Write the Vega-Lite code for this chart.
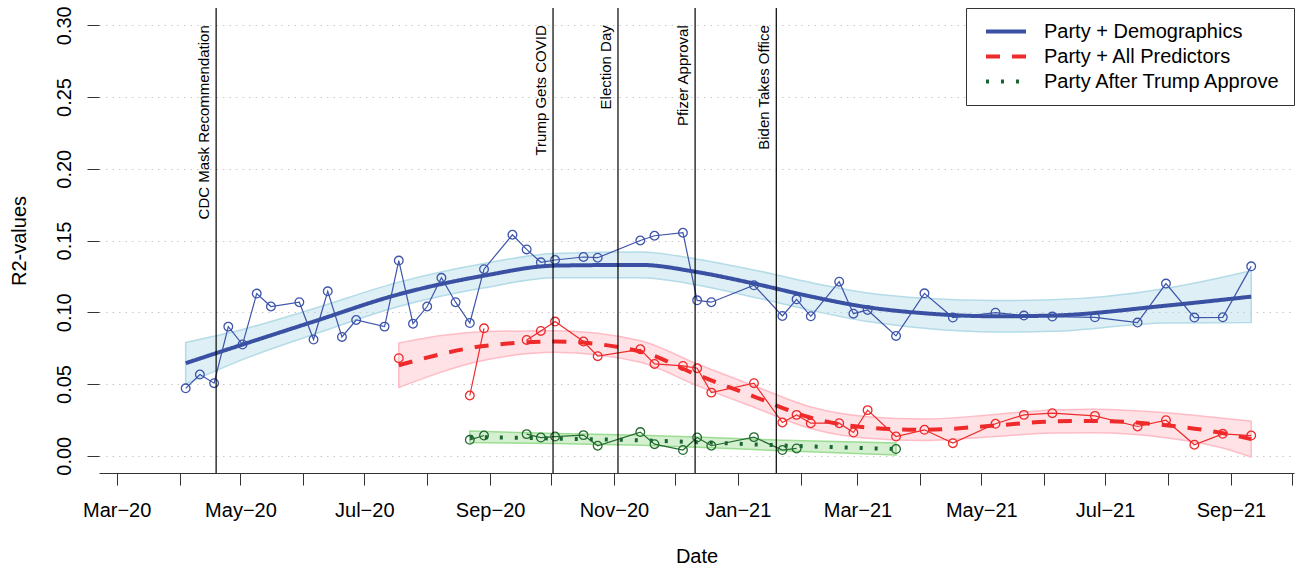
{
  "$schema": "https://vega.github.io/schema/vega-lite/v6.json",
  "width": 1195,
  "height": 465,
  "autosize": "none",
  "padding": {"left": 99, "top": 8, "right": 8, "bottom": 99},
  "background": "white",
  "config": {
    "view": {"stroke": null},
    "font": "Liberation Sans",
    "axis": {
      "labelFont": "Liberation Sans",
      "titleFont": "Liberation Sans",
      "labelColor": "black",
      "titleColor": "black",
      "titleFontWeight": "normal",
      "labelFontSize": 20,
      "titleFontSize": 20,
      "domainColor": "#333333",
      "tickColor": "#333333"
    }
  },
  "datasets": {
    "obs": [
      {"date": "2020-04-04", "series": "Party + Demographics", "r2": 0.047},
      {"date": "2020-04-11", "series": "Party + Demographics", "r2": 0.0566},
      {"date": "2020-04-18", "series": "Party + Demographics", "r2": 0.0506},
      {"date": "2020-04-25", "series": "Party + Demographics", "r2": 0.09},
      {"date": "2020-05-02", "series": "Party + Demographics", "r2": 0.0775},
      {"date": "2020-05-09", "series": "Party + Demographics", "r2": 0.113},
      {"date": "2020-05-16", "series": "Party + Demographics", "r2": 0.104},
      {"date": "2020-05-30", "series": "Party + Demographics", "r2": 0.107},
      {"date": "2020-06-06", "series": "Party + Demographics", "r2": 0.081},
      {"date": "2020-06-13", "series": "Party + Demographics", "r2": 0.1146},
      {"date": "2020-06-20", "series": "Party + Demographics", "r2": 0.0828},
      {"date": "2020-06-27", "series": "Party + Demographics", "r2": 0.0946},
      {"date": "2020-07-11", "series": "Party + Demographics", "r2": 0.09},
      {"date": "2020-07-18", "series": "Party + Demographics", "r2": 0.136},
      {"date": "2020-07-25", "series": "Party + Demographics", "r2": 0.092},
      {"date": "2020-08-01", "series": "Party + Demographics", "r2": 0.104},
      {"date": "2020-08-08", "series": "Party + Demographics", "r2": 0.124},
      {"date": "2020-08-15", "series": "Party + Demographics", "r2": 0.107},
      {"date": "2020-08-22", "series": "Party + Demographics", "r2": 0.0925},
      {"date": "2020-08-29", "series": "Party + Demographics", "r2": 0.13},
      {"date": "2020-09-12", "series": "Party + Demographics", "r2": 0.154},
      {"date": "2020-09-19", "series": "Party + Demographics", "r2": 0.1438},
      {"date": "2020-09-26", "series": "Party + Demographics", "r2": 0.1348},
      {"date": "2020-10-03", "series": "Party + Demographics", "r2": 0.1364},
      {"date": "2020-10-17", "series": "Party + Demographics", "r2": 0.1385},
      {"date": "2020-10-24", "series": "Party + Demographics", "r2": 0.138},
      {"date": "2020-11-14", "series": "Party + Demographics", "r2": 0.15},
      {"date": "2020-11-21", "series": "Party + Demographics", "r2": 0.1533},
      {"date": "2020-12-05", "series": "Party + Demographics", "r2": 0.1554},
      {"date": "2020-12-12", "series": "Party + Demographics", "r2": 0.1083},
      {"date": "2020-12-19", "series": "Party + Demographics", "r2": 0.107},
      {"date": "2021-01-09", "series": "Party + Demographics", "r2": 0.1188},
      {"date": "2021-01-23", "series": "Party + Demographics", "r2": 0.0974},
      {"date": "2021-01-30", "series": "Party + Demographics", "r2": 0.109},
      {"date": "2021-02-06", "series": "Party + Demographics", "r2": 0.0972},
      {"date": "2021-02-20", "series": "Party + Demographics", "r2": 0.1213},
      {"date": "2021-02-27", "series": "Party + Demographics", "r2": 0.099},
      {"date": "2021-03-06", "series": "Party + Demographics", "r2": 0.1016},
      {"date": "2021-03-20", "series": "Party + Demographics", "r2": 0.0835},
      {"date": "2021-04-03", "series": "Party + Demographics", "r2": 0.1132},
      {"date": "2021-04-17", "series": "Party + Demographics", "r2": 0.0963},
      {"date": "2021-05-08", "series": "Party + Demographics", "r2": 0.0997},
      {"date": "2021-05-22", "series": "Party + Demographics", "r2": 0.0977},
      {"date": "2021-06-05", "series": "Party + Demographics", "r2": 0.097},
      {"date": "2021-06-26", "series": "Party + Demographics", "r2": 0.0965},
      {"date": "2021-07-17", "series": "Party + Demographics", "r2": 0.0928},
      {"date": "2021-07-31", "series": "Party + Demographics", "r2": 0.12},
      {"date": "2021-08-14", "series": "Party + Demographics", "r2": 0.0963},
      {"date": "2021-08-28", "series": "Party + Demographics", "r2": 0.0965},
      {"date": "2021-09-11", "series": "Party + Demographics", "r2": 0.132},
      {"date": "2020-07-18", "series": "Party + All Predictors", "r2": 0.068},
      {"date": "2020-07-25", "series": "Party + All Predictors", "r2": null},
      {"date": "2020-08-22", "series": "Party + All Predictors", "r2": 0.042},
      {"date": "2020-08-29", "series": "Party + All Predictors", "r2": 0.0888},
      {"date": "2020-09-12", "series": "Party + All Predictors", "r2": null},
      {"date": "2020-09-19", "series": "Party + All Predictors", "r2": 0.0807},
      {"date": "2020-09-26", "series": "Party + All Predictors", "r2": 0.087},
      {"date": "2020-10-03", "series": "Party + All Predictors", "r2": 0.0935},
      {"date": "2020-10-17", "series": "Party + All Predictors", "r2": 0.0796},
      {"date": "2020-10-24", "series": "Party + All Predictors", "r2": 0.0694},
      {"date": "2020-11-14", "series": "Party + All Predictors", "r2": 0.0742},
      {"date": "2020-11-21", "series": "Party + All Predictors", "r2": 0.064},
      {"date": "2020-12-05", "series": "Party + All Predictors", "r2": 0.0626},
      {"date": "2020-12-12", "series": "Party + All Predictors", "r2": 0.061},
      {"date": "2020-12-19", "series": "Party + All Predictors", "r2": 0.044},
      {"date": "2021-01-09", "series": "Party + All Predictors", "r2": 0.0506},
      {"date": "2021-01-23", "series": "Party + All Predictors", "r2": 0.0232},
      {"date": "2021-01-30", "series": "Party + All Predictors", "r2": 0.0285},
      {"date": "2021-02-06", "series": "Party + All Predictors", "r2": 0.0227},
      {"date": "2021-02-20", "series": "Party + All Predictors", "r2": 0.0227},
      {"date": "2021-02-27", "series": "Party + All Predictors", "r2": 0.0162},
      {"date": "2021-03-06", "series": "Party + All Predictors", "r2": 0.0318},
      {"date": "2021-03-20", "series": "Party + All Predictors", "r2": 0.0134},
      {"date": "2021-04-03", "series": "Party + All Predictors", "r2": 0.0181},
      {"date": "2021-04-17", "series": "Party + All Predictors", "r2": 0.0088},
      {"date": "2021-05-08", "series": "Party + All Predictors", "r2": 0.0223},
      {"date": "2021-05-22", "series": "Party + All Predictors", "r2": 0.0285},
      {"date": "2021-06-05", "series": "Party + All Predictors", "r2": 0.0297},
      {"date": "2021-06-26", "series": "Party + All Predictors", "r2": 0.0278},
      {"date": "2021-07-17", "series": "Party + All Predictors", "r2": 0.0204},
      {"date": "2021-07-31", "series": "Party + All Predictors", "r2": 0.0248},
      {"date": "2021-08-14", "series": "Party + All Predictors", "r2": 0.0077},
      {"date": "2021-08-28", "series": "Party + All Predictors", "r2": 0.0153},
      {"date": "2021-09-11", "series": "Party + All Predictors", "r2": 0.0141},
      {"date": "2020-08-22", "series": "Party After Trump Approve", "r2": 0.0111},
      {"date": "2020-08-29", "series": "Party After Trump Approve", "r2": 0.0141},
      {"date": "2020-09-12", "series": "Party After Trump Approve", "r2": null},
      {"date": "2020-09-19", "series": "Party After Trump Approve", "r2": 0.0151},
      {"date": "2020-09-26", "series": "Party After Trump Approve", "r2": 0.0127},
      {"date": "2020-10-03", "series": "Party After Trump Approve", "r2": 0.0134},
      {"date": "2020-10-17", "series": "Party After Trump Approve", "r2": 0.0144},
      {"date": "2020-10-24", "series": "Party After Trump Approve", "r2": 0.007},
      {"date": "2020-11-14", "series": "Party After Trump Approve", "r2": 0.0165},
      {"date": "2020-11-21", "series": "Party After Trump Approve", "r2": 0.0081},
      {"date": "2020-12-05", "series": "Party After Trump Approve", "r2": 0.004},
      {"date": "2020-12-12", "series": "Party After Trump Approve", "r2": 0.0127},
      {"date": "2020-12-19", "series": "Party After Trump Approve", "r2": 0.007},
      {"date": "2021-01-09", "series": "Party After Trump Approve", "r2": 0.013},
      {"date": "2021-01-23", "series": "Party After Trump Approve", "r2": 0.004},
      {"date": "2021-01-30", "series": "Party After Trump Approve", "r2": 0.0051},
      {"date": "2021-02-06", "series": "Party After Trump Approve", "r2": null},
      {"date": "2021-03-20", "series": "Party After Trump Approve", "r2": 0.0047}
    ],
    "fit": [
      {"date": "2020-04-04", "series": "Party + Demographics", "fit": 0.0645, "lo": 0.050, "hi": 0.079},
      {"date": "2020-05-02", "series": "Party + Demographics", "fit": 0.0775, "lo": 0.067, "hi": 0.088},
      {"date": "2020-06-06", "series": "Party + Demographics", "fit": 0.0935, "lo": 0.0845, "hi": 0.1025},
      {"date": "2020-07-18", "series": "Party + Demographics", "fit": 0.1125, "lo": 0.104, "hi": 0.121},
      {"date": "2020-08-29", "series": "Party + Demographics", "fit": 0.1255, "lo": 0.117, "hi": 0.134},
      {"date": "2020-10-03", "series": "Party + Demographics", "fit": 0.1325, "lo": 0.124, "hi": 0.141},
      {"date": "2020-11-14", "series": "Party + Demographics", "fit": 0.133, "lo": 0.124, "hi": 0.142},
      {"date": "2020-12-12", "series": "Party + Demographics", "fit": 0.128, "lo": 0.119, "hi": 0.137},
      {"date": "2021-01-09", "series": "Party + Demographics", "fit": 0.12, "lo": 0.1105, "hi": 0.1295},
      {"date": "2021-02-06", "series": "Party + Demographics", "fit": 0.111, "lo": 0.1013, "hi": 0.1207},
      {"date": "2021-03-06", "series": "Party + Demographics", "fit": 0.1035, "lo": 0.0935, "hi": 0.1135},
      {"date": "2021-04-03", "series": "Party + Demographics", "fit": 0.0993, "lo": 0.0888, "hi": 0.1098},
      {"date": "2021-05-08", "series": "Party + Demographics", "fit": 0.0972, "lo": 0.0862, "hi": 0.1082},
      {"date": "2021-06-05", "series": "Party + Demographics", "fit": 0.0977, "lo": 0.0867, "hi": 0.1087},
      {"date": "2021-07-31", "series": "Party + Demographics", "fit": 0.1046, "lo": 0.0926, "hi": 0.1166},
      {"date": "2021-09-11", "series": "Party + Demographics", "fit": 0.1109, "lo": 0.0929, "hi": 0.1289},
      {"date": "2020-07-18", "series": "Party + All Predictors", "fit": 0.0631, "lo": 0.0476, "hi": 0.0786},
      {"date": "2020-08-29", "series": "Party + All Predictors", "fit": 0.0765, "lo": 0.0665, "hi": 0.0865},
      {"date": "2020-10-03", "series": "Party + All Predictors", "fit": 0.0796, "lo": 0.0721, "hi": 0.0871},
      {"date": "2020-11-14", "series": "Party + All Predictors", "fit": 0.0726, "lo": 0.0651, "hi": 0.0801},
      {"date": "2020-12-12", "series": "Party + All Predictors", "fit": 0.0564, "lo": 0.0489, "hi": 0.0639},
      {"date": "2021-01-09", "series": "Party + All Predictors", "fit": 0.0413, "lo": 0.0338, "hi": 0.0488},
      {"date": "2021-02-06", "series": "Party + All Predictors", "fit": 0.0265, "lo": 0.019, "hi": 0.034},
      {"date": "2021-03-06", "series": "Party + All Predictors", "fit": 0.0197, "lo": 0.0122, "hi": 0.0272},
      {"date": "2021-04-03", "series": "Party + All Predictors", "fit": 0.0181, "lo": 0.0106, "hi": 0.0256},
      {"date": "2021-05-08", "series": "Party + All Predictors", "fit": 0.0211, "lo": 0.0134, "hi": 0.0288},
      {"date": "2021-06-05", "series": "Party + All Predictors", "fit": 0.0239, "lo": 0.0159, "hi": 0.0319},
      {"date": "2021-06-26", "series": "Party + All Predictors", "fit": 0.0243, "lo": 0.0161, "hi": 0.0325},
      {"date": "2021-07-31", "series": "Party + All Predictors", "fit": 0.0213, "lo": 0.0126, "hi": 0.03},
      {"date": "2021-08-28", "series": "Party + All Predictors", "fit": 0.0158, "lo": 0.0054, "hi": 0.0262},
      {"date": "2021-09-11", "series": "Party + All Predictors", "fit": 0.0116, "lo": -0.0009, "hi": 0.0241},
      {"date": "2020-08-22", "series": "Party After Trump Approve", "fit": 0.0132, "lo": 0.0092, "hi": 0.0172},
      {"date": "2020-10-03", "series": "Party After Trump Approve", "fit": 0.012, "lo": 0.0085, "hi": 0.0155},
      {"date": "2020-11-14", "series": "Party After Trump Approve", "fit": 0.0108, "lo": 0.0073, "hi": 0.0143},
      {"date": "2020-12-12", "series": "Party After Trump Approve", "fit": 0.0095, "lo": 0.006, "hi": 0.013},
      {"date": "2021-01-23", "series": "Party After Trump Approve", "fit": 0.0072, "lo": 0.0035, "hi": 0.0109},
      {"date": "2021-03-20", "series": "Party After Trump Approve", "fit": 0.0047, "lo": 0.0005, "hi": 0.0089}
    ],
    "events": [
      {"date": "2020-04-19", "label": "CDC Mask Recommendation"},
      {"date": "2020-10-02", "label": "Trump Gets COVID"},
      {"date": "2020-11-03", "label": "Election Day"},
      {"date": "2020-12-11", "label": "Pfizer Approval"},
      {"date": "2021-01-20", "label": "Biden Takes Office"}
    ]
  },
  "encoding": {
    "x": {
      "field": "date",
      "type": "temporal",
      "title": "Date",
      "scale": {
        "type": "utc",
        "domain": [
          {"year": 2020, "month": 2, "date": 21, "hours": 7, "utc": true},
          {"year": 2021, "month": 10, "date": 2, "hours": 2, "utc": true}
        ]
      },
      "axis": {
        "grid": false,
        "tickCount": {"interval": "month", "step": 1},
        "labelExpr": "utcmonth(datum.value) % 2 == 0 ? utcFormat(datum.value, '%b') + '\u2212' + utcFormat(datum.value, '%y') : ''",
        "labelOverlap": false,
        "labelFlush": false,
        "tickSize": 12,
        "labelPadding": 15,
        "titlePadding": 26
      }
    }
  },
  "layer": [
    {
      "data": {"name": "fit"},
      "mark": {"type": "area", "interpolate": "monotone", "fillOpacity": 0.4, "strokeWidth": 1.5, "strokeOpacity": 0.9},
      "encoding": {
        "y": {
          "field": "lo",
          "type": "quantitative",
          "title": "R2-values",
          "scale": {"domain": [-0.012, 0.312], "nice": false, "zero": false},
          "axis": {
            "values": [0, 0.05, 0.1, 0.15, 0.2, 0.25, 0.3],
            "format": ".2f",
            "domain": false,
            "grid": true,
            "gridColor": "#C8C8C8",
            "gridDash": [1.5, 5],
            "gridWidth": 1.2,
            "tickSize": 12,
            "labelAngle": 270,
            "labelAlign": "center",
            "labelBaseline": "alphabetic",
            "labelPadding": 17,
            "titlePadding": 25
          }
        },
        "y2": {"field": "hi"},
        "detail": {"field": "series"},
        "fill": {
          "condition": [
            {"test": "datum.series === 'Party + Demographics'", "value": "#ADD8E6"},
            {"test": "datum.series === 'Party + All Predictors'", "value": "#FFB6C1"}
          ],
          "value": "#93D98A"
        },
        "stroke": {
          "condition": [
            {"test": "datum.series === 'Party + Demographics'", "value": "#ADD8E6"},
            {"test": "datum.series === 'Party + All Predictors'", "value": "#FFB6C1"}
          ],
          "value": "#93D98A"
        }
      }
    },
    {
      "data": {"name": "obs"},
      "mark": {"type": "line", "strokeWidth": 1.2, "invalid": "break-paths-filter-domains"},
      "encoding": {
        "y": {"field": "r2", "type": "quantitative", "title": "R2-values"},
        "detail": {"field": "series"},
        "stroke": {
          "condition": [
            {"test": "datum.series === 'Party + Demographics'", "value": "#3E55AA"},
            {"test": "datum.series === 'Party + All Predictors'", "value": "#EE2A2A"}
          ],
          "value": "#236B30"
        }
      }
    },
    {
      "data": {"name": "obs"},
      "mark": {"type": "point", "shape": "circle", "filled": false, "size": 75, "strokeWidth": 1.3, "opacity": 1, "invalid": "break-paths-filter-domains"},
      "encoding": {
        "y": {"field": "r2", "type": "quantitative", "title": "R2-values"},
        "stroke": {
          "condition": [
            {"test": "datum.series === 'Party + Demographics'", "value": "#3E55AA"},
            {"test": "datum.series === 'Party + All Predictors'", "value": "#EE2A2A"}
          ],
          "value": "#236B30"
        }
      }
    },
    {
      "data": {"name": "fit"},
      "mark": {"type": "line", "interpolate": "monotone", "strokeWidth": 4},
      "encoding": {
        "y": {"field": "fit", "type": "quantitative", "title": "R2-values"},
        "color": {
          "field": "series",
          "type": "nominal",
          "title": null,
          "scale": {
            "domain": ["Party + Demographics", "Party + All Predictors", "Party After Trump Approve"],
            "range": ["#3A51A3", "#EE2A2A", "#1A6630"]
          },
          "legend": {
            "orient": "top-right",
            "offset": 0,
            "title": null,
            "labelFont": "Liberation Sans",
            "labelFontSize": 20,
            "labelColor": "black",
            "labelLimit": 400,
            "labelOffset": 16,
            "symbolType": "stroke",
            "symbolSize": 1600,
            "symbolStrokeWidth": 4,
            "symbolOffset": 6,
            "clipHeight": 23,
            "rowPadding": 2,
            "padding": 12,
            "strokeColor": "#333333",
            "fillColor": "white"
          }
        },
        "strokeDash": {
          "field": "series",
          "type": "nominal",
          "title": null,
          "scale": {
            "domain": ["Party + Demographics", "Party + All Predictors", "Party After Trump Approve"],
            "range": [[1, 0], [14, 12], [3, 12]]
          }
        }
      }
    },
    {
      "data": {"name": "events"},
      "mark": {"type": "rule", "color": "black", "strokeWidth": 1.2},
      "encoding": {}
    },
    {
      "data": {"name": "events"},
      "mark": {"type": "text", "angle": 270, "align": "right", "baseline": "alphabetic", "dy": -7, "fontSize": 15, "font": "Liberation Sans", "color": "black"},
      "encoding": {
        "y": {"datum": 0.3, "type": "quantitative"},
        "text": {"field": "label"}
      }
    },
    {
      "data": {"values": [{}]},
      "mark": {"type": "rule", "color": "#333333", "strokeWidth": 1},
      "encoding": {
        "x": {"datum": {"year": 2020, "month": 2, "date": 21, "hours": 7, "utc": true}, "type": "temporal"},
        "y": {"datum": 0, "type": "quantitative"},
        "y2": {"datum": 0.3}
      }
    }
  ]
}
